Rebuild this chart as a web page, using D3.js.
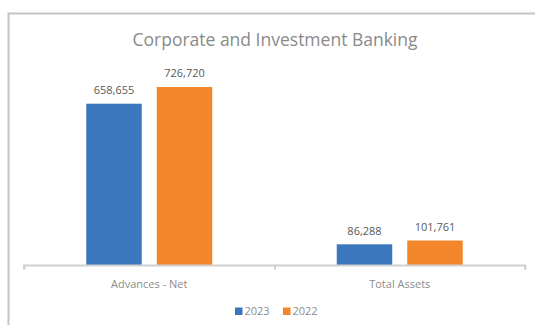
<!DOCTYPE html>
<html><head><meta charset="utf-8">
<script src="https://cdn.jsdelivr.net/npm/d3@7"></script>
<style>html,body{margin:0;padding:0;background:#fff;}svg{display:block;}</style>
</head><body>
<svg id="c" width="535" height="325"></svg>
<script>
const title = "Corporate and Investment Banking";
const categories = ["Advances - Net", "Total Assets"];
const seriesNames = ["2023", "2022"];
const values2023 = [658655, 86288];
const values2022 = [726720, 101761];
const colors = ["#3a77bd", "#f2862a"];

const svg = d3.select("#c");
const font = "'Open Sans', sans-serif";

// outer frame
svg.append("rect").attr("x", 8.5).attr("y", 13.5).attr("width", 600).attr("height", 400)
  .attr("fill", "none").attr("stroke", "#c4c4c4").attr("stroke-width", 2);

svg.append("text").attr("x", 275).attr("y", 46).attr("text-anchor", "middle")
  .attr("font-family", font).attr("font-size", 17.5).attr("fill", "#8a8a8a").text(title);

const left = 24, right = 525, base = 265.5;
const x0 = d3.scaleBand().domain(categories).range([left, right]).paddingInner(0.497).paddingOuter(0.2485);
const x1 = d3.scaleBand().domain(seriesNames).range([0, x0.bandwidth()]).paddingInner(0.213);
const y = d3.scaleLinear().domain([0, 800000]).range([base, 69]);

const data = categories.map((c, i) => ({cat: c, vals: [
  {s: seriesNames[0], v: values2023[i], col: colors[0]},
  {s: seriesNames[1], v: values2022[i], col: colors[1]}]}));

const g = svg.selectAll("g.cat").data(data).join("g").attr("class", "cat")
  .attr("transform", d => `translate(${x0(d.cat)},0)`);
g.selectAll("rect").data(d => d.vals).join("rect")
  .attr("x", d => x1(d.s)).attr("width", x1.bandwidth())
  .attr("y", d => y(d.v)).attr("height", d => y(0) - y(d.v)).attr("fill", d => d.col);
g.selectAll("text.lbl").data(d => d.vals).join("text").attr("class", "lbl")
  .attr("x", d => x1(d.s) + x1.bandwidth() / 2).attr("y", d => y(d.v) - 9.5)
  .attr("text-anchor", "middle").attr("font-family", font).attr("font-size", 11)
  .attr("fill", "#595959").text(d => d3.format(",")(d.v));

// category axis
const axisX = d3.scaleLinear().domain([0, categories.length]).range([left, right]);
const ax = svg.append("g").attr("transform", `translate(0,${base})`)
  .call(d3.axisBottom(axisX).tickValues(d3.range(categories.length + 1)).tickSize(4).tickFormat(""));
ax.select(".domain").attr("stroke", "#d0d0d0").attr("stroke-width", 2)
  .attr("d", `M${left},4V0H${right}V4`);
ax.selectAll(".tick line").attr("stroke", "#d0d0d0").attr("stroke-width", 2);

svg.selectAll("text.cat").data(categories).join("text").attr("class", "cat")
  .attr("x", d => x0(d) + x0.bandwidth() / 2).attr("y", 288)
  .attr("text-anchor", "middle").attr("font-family", font).attr("font-size", 11)
  .attr("fill", "#8c8c8c").text(d => d);

// legend
const legX = [235, 283];
const lg = svg.selectAll("g.leg").data(seriesNames).join("g").attr("class", "leg")
  .attr("transform", (d, i) => `translate(${legX[i]},307.5)`);
lg.append("rect").attr("width", 7.5).attr("height", 7.5).attr("fill", (d, i) => colors[i]);
lg.append("text").attr("x", 9.5).attr("y", 7.7).attr("font-family", font).attr("font-size", 11)
  .attr("fill", "#8c8c8c").text(d => d);
</script>
</body></html>
